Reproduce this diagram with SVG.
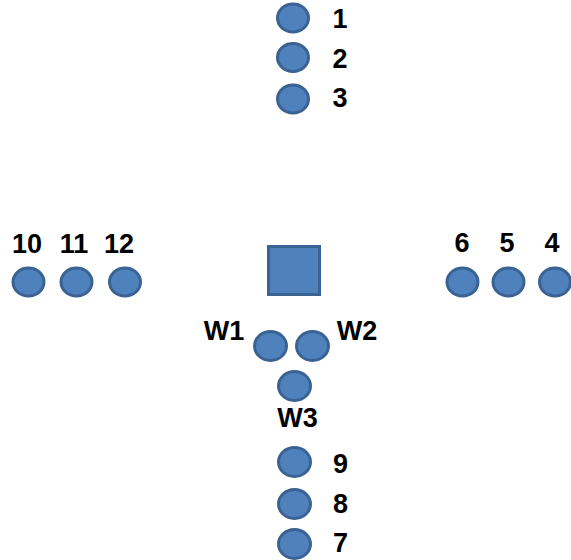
<svg xmlns="http://www.w3.org/2000/svg" width="571" height="560" viewBox="0 0 571 560">
<style>
.n{fill:#4F81BD;stroke:#3A6292;stroke-width:3}
.t{font-family:"Liberation Sans",Arial,sans-serif;font-weight:bold;font-size:27px;fill:#000;text-anchor:middle}
</style>
<rect width="571" height="560" fill="#fff"/>
<g id="connectors"></g>
<g id="n1"><ellipse class="n" cx="293" cy="18" rx="15.5" ry="14"/><text class="t" x="340" y="28">1</text></g>
<g id="n2"><ellipse class="n" cx="293" cy="57.5" rx="15.5" ry="14"/><text class="t" x="340" y="68">2</text></g>
<g id="n3"><ellipse class="n" cx="293" cy="99" rx="15.5" ry="14"/><text class="t" x="340" y="107">3</text></g>
<g id="n10"><ellipse class="n" cx="28.5" cy="282" rx="15.5" ry="14"/><text class="t" x="27" y="253">10</text></g>
<g id="n11"><ellipse class="n" cx="76.5" cy="282" rx="15.5" ry="14"/><text class="t" x="74" y="253">11</text></g>
<g id="n12"><ellipse class="n" cx="125" cy="282" rx="15.5" ry="14"/><text class="t" x="119" y="253">12</text></g>
<g id="n6"><ellipse class="n" cx="462.5" cy="282" rx="15.5" ry="14"/><text class="t" x="462" y="252">6</text></g>
<g id="n5"><ellipse class="n" cx="508.5" cy="282" rx="15.5" ry="14"/><text class="t" x="507" y="252">5</text></g>
<g id="n4"><ellipse class="n" cx="555" cy="282" rx="15.5" ry="14"/><text class="t" x="552" y="252">4</text></g>
<g id="center"><rect class="n" x="268.5" y="246.5" width="51" height="48"/></g>
<g id="w1"><ellipse class="n" cx="270.5" cy="346" rx="16" ry="14.5"/><text class="t" x="224" y="340">W1</text></g>
<g id="w2"><ellipse class="n" cx="312.5" cy="346" rx="16" ry="14.5"/><text class="t" x="357" y="340">W2</text></g>
<g id="w3"><ellipse class="n" cx="294.5" cy="386" rx="16" ry="14.5"/><text class="t" x="297.5" y="427">W3</text></g>
<g id="n9"><ellipse class="n" cx="294.5" cy="462" rx="16" ry="14.5"/><text class="t" x="340.5" y="473">9</text></g>
<g id="n8"><ellipse class="n" cx="294.5" cy="504" rx="16" ry="14.5"/><text class="t" x="340.5" y="513">8</text></g>
<g id="n7"><ellipse class="n" cx="294.5" cy="544" rx="16" ry="14.5"/><text class="t" x="340.5" y="552">7</text></g>
</svg>
